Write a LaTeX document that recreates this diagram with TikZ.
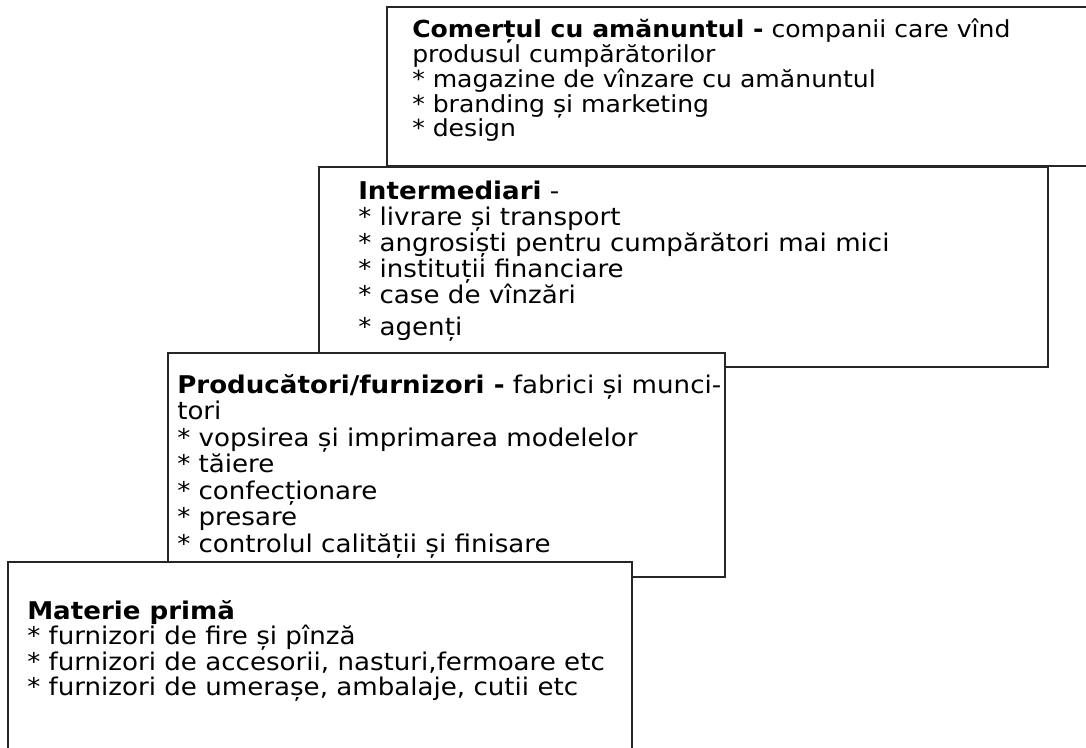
\documentclass[tikz,border=0pt]{standalone}
\usepackage{fontspec}
\setmainfont{DejaVu Sans}[FakeStretch=1.07]
\usepackage{tikz}
\tikzset{
	panel/.style={draw=black!85, line width=1.1pt, fill=white},
	% #1 = line spacing of the box
	tiertext/.style={anchor=north west, inner sep=0pt, align=left,
		font=\fontsize{18.3}{#1}\selectfont, execute at begin node=\strut}
}
\newcommand{\tierbox}[4] % left, top, right, bottom in px
{
	% white box that hides the one behind it
	\filldraw[panel] (#1,#2) rectangle (#3,#4);
}

\begin{document}
\begin{tikzpicture}[x=0.75pt, y=-0.75pt]
	% 1086px x 747px
	\useasboundingbox (0,0) rectangle (1086,747);
	\clip (0,0) rectangle (1086,747);
	% retail - top step
	\tierbox{387}{7}{1100}{166};
	\node[tiertext=18.6pt, font=\fontsize{17.6}{18.6pt}\selectfont] (retail) at (412,18.6)
		{\textbf{Comerțul cu amănuntul -} companii care vînd\\
		produsul cumpărătorilor\\
		* magazine de vînzare cu amănuntul\\
		* branding și marketing\\
		* design};
	% intermediaries
	\tierbox{319}{167}{1048}{367};
	\node[tiertext=19.5pt] (middlemen) at (358,181)
		{\textbf{Intermediari} -\\
		* livrare și transport\\
		* angrosiști pentru cumpărători mai mici\\
		* instituții financiare\\
		* case de vînzări\\[4.5pt]
		* agenți};
	% producers
	\tierbox{168}{353}{725}{577};
	\node[tiertext=19.9pt] (makers) at (177,374)
		{\textbf{Producători/furnizori -} fabrici și munci-\\
		tori\\
		* vopsirea și imprimarea modelelor\\
		* tăiere\\
		* confecționare\\
		* presare\\
		* controlul calității și finisare};
	% raw material - bottom step
	\tierbox{8}{562}{632}{760};
	\node[tiertext=19.1pt] (rawmat) at (27,600)
		{\textbf{Materie primă}\\
		* furnizori de fire și pînză\\
		* furnizori de accesorii, nasturi,fermoare etc\\
		* furnizori de umerașe, ambalaje, cutii etc};
\end{tikzpicture}
\end{document}
